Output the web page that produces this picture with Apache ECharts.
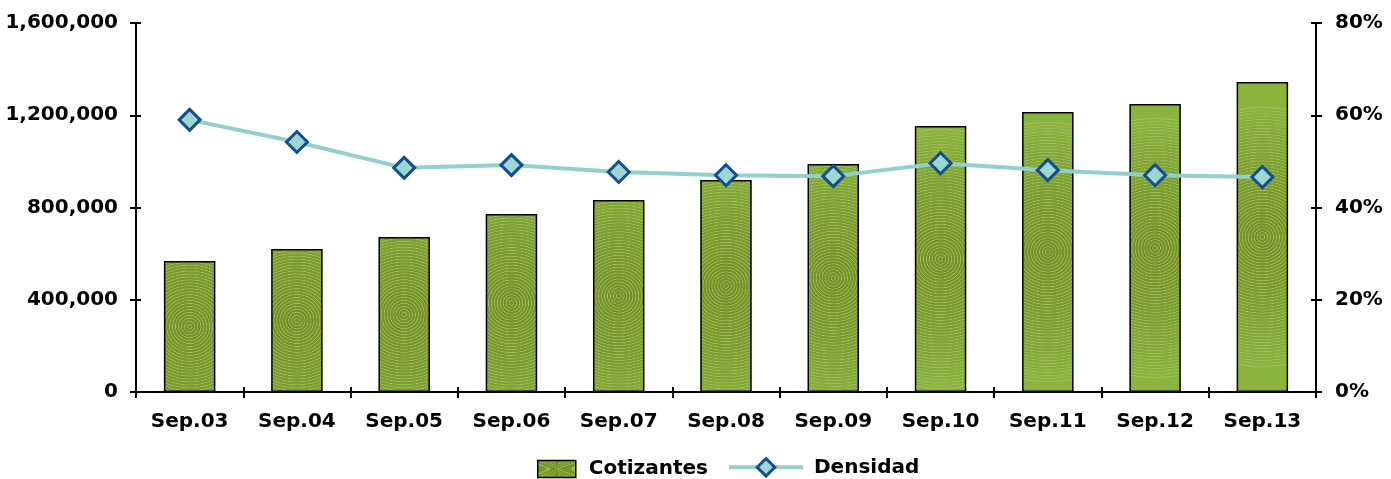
<!DOCTYPE html>
<html>
<head>
<meta charset="utf-8">
<script src="https://cdn.jsdelivr.net/npm/echarts@6/dist/echarts.min.js"></script>
<style>
  html, body { margin: 0; padding: 0; background: #fff; }
  #chart { width: 1391px; height: 479px; }
</style>
</head>
<body>
<div id="chart"></div>
<script>
const categories = ["Sep.03", "Sep.04", "Sep.05", "Sep.06", "Sep.07", "Sep.08", "Sep.09", "Sep.10", "Sep.11", "Sep.12", "Sep.13"];
const cotizantes = [568000, 620000, 672000, 772000, 832000, 919000, 989000, 1153000, 1214000, 1249000, 1344000];
const densidad = [59.0, 54.2, 48.6, 49.2, 47.7, 47.0, 46.8, 49.6, 48.1, 47.0, 46.6];

// textura de anillos finos (como el relleno de Excel)
const ringStops = [];
const nRings = 44;
const dark = [118, 146, 40], light = [139, 180, 63];
const mix = t => dark.map((d, k) => Math.round(d + (light[k] - d) * t));
for (let i = 0; i < nRings; i++) {
  const t0 = i / nRings, t1 = (i + 0.55) / nRings, t2 = (i + 0.8) / nRings;
  const base = `rgb(${mix(Math.pow(t0, 1.4)).join(",")})`;
  ringStops.push({ offset: t0 * 0.97, color: base });
  ringStops.push({ offset: t1 * 0.97, color: base });
  ringStops.push({ offset: t2 * 0.97, color: "rgb(160,190,96)" });
}
ringStops.push({ offset: 0.975, color: "rgb(139,180,63)" });
ringStops.push({ offset: 1, color: "rgb(139,180,63)" });

const barFill = { type: "radial", x: 0.5, y: 0.5, r: 2.6, colorStops: ringStops };
const font = "DejaVu Sans";
const lbl = { fontFamily: font, fontWeight: "bold", fontSize: 20, color: "#000" };
const tick = { show: true, length: 6, lineStyle: { color: "#000", width: 2 } };
const tickIn = { show: true, inside: true, length: 5, lineStyle: { color: "#000", width: 2 } };
const markerStyle = { color: "#9ed6d2", borderColor: "#134f8f", borderWidth: 3 };

const chart = echarts.init(document.getElementById("chart"));
chart.setOption({
  animation: false,
  textStyle: { fontFamily: font },
  grid: { left: 136, right: 75, top: 23, bottom: 87 },
  legend: [
    {
      data: [{ name: "Cotizantes", icon: "rect", itemStyle: { color: barFill, borderColor: "#000", borderWidth: 1.5 } }],
      left: 532, top: 454, itemWidth: 38, itemHeight: 17,
      textStyle: Object.assign({ padding: [0, 0, 0, 8] }, lbl)
    },
    {
      data: [{ name: "Densidad", itemStyle: markerStyle, lineStyle: { color: "#93cfcb", width: 4 } }],
      left: 722, top: 452, itemWidth: 74, itemHeight: 22,
      textStyle: Object.assign({ padding: [0, 0, 0, 6] }, lbl)
    }
  ],
  xAxis: [
    {
      type: "category",
      data: categories,
      axisLine: { lineStyle: { color: "#000", width: 2 } },
      axisTick: tick,
      axisLabel: Object.assign({ margin: 20 }, lbl)
    },
    {
      // solo para que las marcas crucen el eje
      type: "category", data: categories, position: "bottom",
      axisLine: { show: false }, axisTick: tickIn, axisLabel: { show: false }
    }
  ],
  yAxis: [
    {
      type: "value", min: 0, max: 1600000, interval: 400000,
      splitLine: { show: false },
      axisLine: { show: true, lineStyle: { color: "#000", width: 2 } },
      axisTick: tick,
      axisLabel: Object.assign({ margin: 18, formatter: v => v.toLocaleString("en-US") }, lbl)
    },
    {
      type: "value", min: 0, max: 80, interval: 20, position: "right",
      splitLine: { show: false },
      axisLine: { show: true, lineStyle: { color: "#000", width: 2 } },
      axisTick: tick,
      axisLabel: Object.assign({ margin: 19, formatter: "{value}%" }, lbl)
    },
    {
      type: "value", min: 0, max: 1600000, interval: 400000, position: "left",
      splitLine: { show: false }, axisLine: { show: false }, axisTick: tickIn, axisLabel: { show: false }
    },
    {
      type: "value", min: 0, max: 80, interval: 20, position: "right",
      splitLine: { show: false }, axisLine: { show: false }, axisTick: tickIn, axisLabel: { show: false }
    }
  ],
  series: [
    {
      name: "Cotizantes",
      type: "bar",
      data: cotizantes,
      barWidth: "48%",
      itemStyle: { color: barFill, borderColor: "#000", borderWidth: 1.5 }
    },
    {
      name: "Densidad",
      type: "line",
      yAxisIndex: 1,
      data: densidad,
      symbol: "diamond",
      symbolSize: 21,
      lineStyle: { color: "#93cfcb", width: 4 },
      itemStyle: markerStyle
    }
  ]
});
</script>
</body>
</html>
